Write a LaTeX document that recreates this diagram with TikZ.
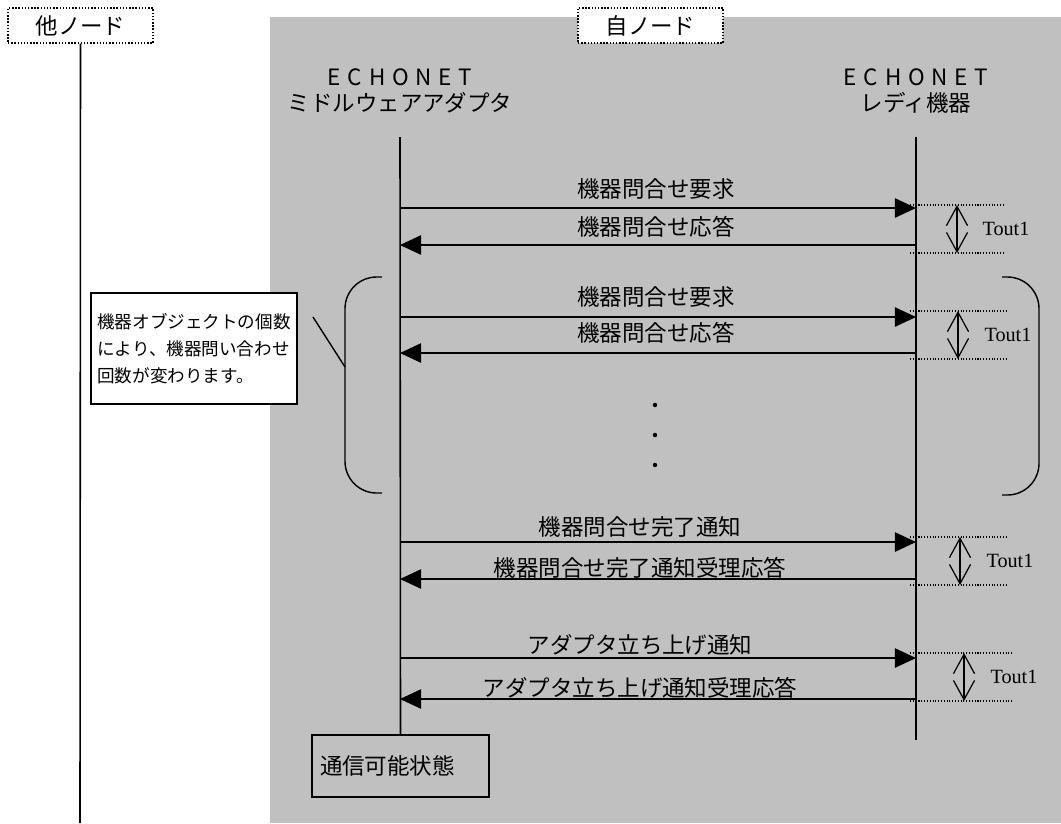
\documentclass[tikz,border=0pt]{standalone}
\usepackage{fontspec}
\setmainfont{Noto Sans CJK JP}
\newfontfamily\toutfont{Liberation Serif}
\usetikzlibrary{arrows.meta,positioning,calc}
\definecolor{ngray}{HTML}{C0C0C0}
\newcommand{\spaced}[1]{{\addfontfeature{LetterSpace=30}#1}}

\begin{document}
\begin{tikzpicture}[x=0.02cm,y=-0.02cm,
    font=\fontsize{12.8}{15}\selectfont,
    nodebox/.style={draw,densely dotted,thick,fill=white,
      minimum width=2.9cm,minimum height=0.7cm,inner sep=0pt},
    life/.style={line width=0.9pt},
    msg/.style={line width=0.9pt,-{Triangle[length=12pt,width=11pt]}},
    tline/.style={densely dotted,line width=0.6pt},
    tout/.style={line width=0.7pt,
      {Straight Barb[length=11pt,width=12pt]}-{Straight Barb[length=11pt,width=12pt]}},
    notebox/.style={draw,line width=0.9pt,fill=white,align=left,
      font=\fontsize{10}{15.5}\selectfont,
      minimum width=4.12cm,minimum height=2.22cm,inner xsep=3pt},
    statebox/.style={draw,line width=0.9pt,fill=ngray,align=left,
      text width=3.22cm,inner xsep=0.16cm,minimum height=1.24cm}]
  \useasboundingbox (0,0) rectangle (1061,823);

  % own node area
  \fill[ngray] (270,17) rectangle (1061,823);

  % node headers
  \node[nodebox] (other) at (80.5,25.5) {他ノード};
  \node[nodebox] (self) at (650.5,25.5) {自ノード};
  \coordinate (otherbot) at (80,823);
  \draw[life] (other.south) -- (otherbot);

  % lifelines
  \node[align=center] (mwname) at (400,91) {\spaced{ECHONET}\\ミドルウェアアダプタ};
  \node[align=center] (rdname) at (916,91) {\spaced{ECHONET}\\レディ機器};
  \coordinate (mwtop) at (400,137);
  \coordinate (rdtop) at (916,137);
  \coordinate (rdbot) at (916,740);
  \node[statebox] (state) at (400.5,766) {通信可能状態};
  \draw[life] (mwtop) -- (state.north);
  \draw[life] (rdtop) -- (rdbot);

  % requests
  \foreach \y/\lx/\ly/\txt in {208/656/189/機器問合せ要求,317/656/297/機器問合せ要求,
      542/640/527/機器問合せ完了通知,658/640/645/アダプタ立ち上げ通知}{
    \draw[msg] (mwtop |- 0,\y) -- (rdtop |- 0,\y);
    \node at (\lx,\ly) {\txt};
  }
  % responses
  \foreach \y/\lx/\ly/\txt in {245/656/227/機器問合せ応答,353/656/333/機器問合せ応答,
      579/640/568/機器問合せ完了通知受理応答,699/640/688/アダプタ立ち上げ通知受理応答}{
    \draw[msg] (rdtop |- 0,\y) -- (mwtop |- 0,\y);
    \node at (\lx,\ly) {\txt};
  }

  % timeouts
  \foreach \a/\b/\x/\tx in {205/253/957/1006,311/359/958/1008,537/585/960/1010,653/701/964/1014}{
    \draw[tline] (910,\a) -- (\x+48,\a);
    \draw[tline] (910,\b) -- (\x+48,\b);
    \draw[tout] (\x,\a) -- (\x,\b);
    \node[font=\toutfont\fontsize{11.5}{13}\selectfont] at (\tx,{(\a+\b)/2}) {Tout1};
  }

  % repetition
  \foreach \y in {405,435,465}
    \fill (655,\y) circle (2.2);
  \draw[line width=0.8pt,rounded corners=18pt] (382,277) -- (345,277) -- (345,493) -- (382,493);
  \draw[line width=0.8pt,rounded corners=18pt] (1002,277) -- (1039,277) -- (1039,495) -- (1002,495);

  % note
  \node[notebox] (note) at (194,348.5) {機器オブジェクトの個数\\により、機器問い合わせ\\回数が変わります。};
  \coordinate (leadtop) at (313,317);
  \coordinate (lbrace) at (345,367);
  \draw[line width=0.8pt] (leadtop) -- (lbrace);
\end{tikzpicture}
\end{document}
